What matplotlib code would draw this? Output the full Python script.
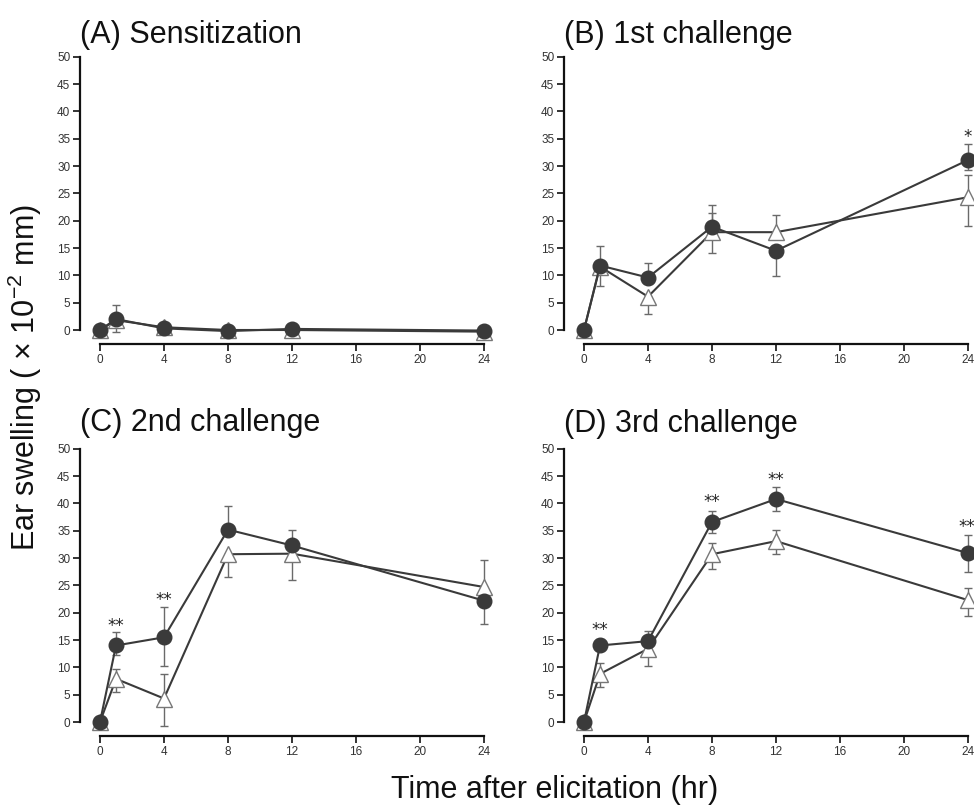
import matplotlib
matplotlib.use("Agg")
import matplotlib.pyplot as plt
import numpy as np

plt.rcParams['font.family'] = ['Liberation Sans', 'DejaVu Sans']
plt.rcParams['mathtext.fontset'] = 'custom'
plt.rcParams['mathtext.rm'] = 'Liberation Sans'
plt.rcParams['mathtext.it'] = 'Liberation Sans:italic'

hours = [0, 1, 4, 8, 12, 24]
titles = ["(A) Sensitization", "(B) 1st challenge", "(C) 2nd challenge", "(D) 3rd challenge"]

# filled circle series
circ = [
    [0, 2.0, 0.3, -0.2, 0.2, -0.1],
    [0, 11.8, 9.6, 18.9, 14.5, 31.1],
    [0, 14.0, 15.5, 35.2, 32.3, 22.2],
    [0, 14.0, 14.8, 36.6, 40.8, 30.9],
]
circ_err_up = [
    [0, 2.6, 0.5, 0.3, 0.3, 0.3],
    [0.6, 3.5, 2.6, 4.0, 0, 2.9],
    [0, 2.5, 5.5, 4.4, 2.9, 0],
    [0, 1.2, 1.8, 2.1, 2.2, 3.4],
]
circ_err_dn = [
    [0, 2.3, 0, 0, 0, 0],
    [0, 0, 0, 0, 4.6, 1.8],
    [0, 1.8, 5.2, 0, 0, 4.3],
    [0, 0, 0, 2.0, 2.1, 3.5],
]
# open triangle series
tri = [
    [0, 1.8, 0.5, 0.0, 0.0, -0.3],
    [0, 11.6, 6.1, 17.9, 17.9, 24.3],
    [0, 7.9, 4.3, 30.7, 30.8, 24.7],
    [0, 8.8, 13.4, 30.7, 33.1, 22.3],
]
tri_err_up = [
    [0, 0, 0.5, 0.3, 0, 0],
    [0, 0, 0, 3.6, 3.1, 4.1],
    [0, 1.8, 4.5, 0, 2.5, 4.9],
    [0, 2.0, 0, 2.0, 2.1, 2.3],
]
tri_err_dn = [
    [0.3, 0, 0, 0, 0.9, 0.7],
    [0.3, 3.5, 3.2, 3.9, 0, 5.3],
    [0.3, 2.4, 5.1, 4.1, 4.9, 0],
    [0, 2.4, 3.2, 2.7, 2.3, 2.9],
]
# significance marks
stars = [
    [],
    [(24, 35.4, "*")],
    [(1, 17.5, "**"), (4, 22.4, "**")],
    [(1, 16.9, "**"), (8, 40.2, "**"), (12, 44.3, "**"), (23.9, 35.7, "**")],
]

W, H = 974, 805
fig = plt.figure(figsize=(W / 100, H / 100), dpi=100)

origins = [(100, 330), (584, 330), (100, 722), (584, 722)]
pxx = 16.0
pxy = 5.465
xlim = (-1.3, 24.4)
ylim = (-3, 51)
title_pos = [(80, 43), (564, 43), (80, 431), (564, 432)]

line_col = '#3a3a3a'
err_col = '#6a6a6a'

for i in range(4):
    x0, y0 = origins[i]
    left = x0 + xlim[0] * pxx
    right = x0 + xlim[1] * pxx
    top = y0 - ylim[1] * pxy
    bottom = y0 - ylim[0] * pxy
    ax = fig.add_axes([left / W, 1 - bottom / H, (right - left) / W, (bottom - top) / H])
    ax.set_xlim(*xlim)
    ax.set_ylim(*ylim)

    h = np.array(hours, dtype=float)
    c = np.array(circ[i]); t = np.array(tri[i])
    ax.errorbar(h, t, yerr=[tri_err_dn[i], tri_err_up[i]], fmt='none', ecolor=err_col,
                elinewidth=1.0, capsize=3, capthick=1.0, zorder=2, clip_on=False)
    ax.errorbar(h, c, yerr=[circ_err_dn[i], circ_err_up[i]], fmt='none', ecolor=err_col,
                elinewidth=1.0, capsize=3, capthick=1.0, zorder=2, clip_on=False)
    ax.plot(h, t, '-', color=line_col, lw=1.5, marker='^', ms=12, mfc='white',
            mec='#777777', mew=1.0, zorder=3, clip_on=False)
    ax.plot(h, c, '-', color=line_col, lw=1.5, marker='o', ms=10.5, mfc='#3a3a3a',
            mec='#3a3a3a', zorder=4, clip_on=False)

    for (sx, sy, s) in stars[i]:
        ax.text(sx, sy, s, ha='center', va='center', fontsize=12, color='#222222',
                family='DejaVu Sans')

    for sp in ['top', 'right']:
        ax.spines[sp].set_visible(False)
    ax.spines['left'].set_position(('data', -1.25))
    ax.spines['bottom'].set_position(('data', -2.6))
    ax.spines['left'].set_bounds(0, 50)
    ax.spines['bottom'].set_bounds(0, 24)
    for sp in ['left', 'bottom']:
        ax.spines[sp].set_linewidth(1.6)
        ax.spines[sp].set_color('#111111')
    ax.set_xticks([0, 4, 8, 12, 16, 20, 24])
    ax.set_yticks(range(0, 51, 5))
    ax.tick_params(direction='out', length=5, width=1.2, labelsize=8.5,
                   labelcolor='#333333', color='#111111', pad=2)

    tx, ty = title_pos[i]
    fig.text(tx / W, 1 - ty / H, titles[i], fontsize=22, ha='left', va='baseline', color='#111111')

fig.text(25 / W, 1 - 378 / H, r'Ear swelling ( $\times$ 10$^{-2}$ mm)', rotation=90,
         fontsize=22, ha='center', va='center', color='#111111')
fig.text(555 / W, 1 - 790 / H, 'Time after elicitation (hr)', fontsize=22,
         ha='center', va='center', color='#111111')

fig.savefig('out.png', dpi=100)
